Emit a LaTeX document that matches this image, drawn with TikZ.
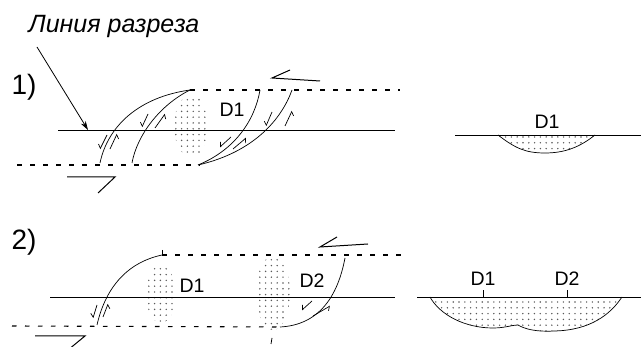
\documentclass[tikz,border=0pt]{standalone}
\usepackage{fontspec}
\setmainfont{Liberation Sans}
\usetikzlibrary{arrows.meta,calc,positioning}

\tikzset{
 cut/.style={line width=.8pt},
 trace/.style={line width=1.1pt,dash pattern=on 4.5pt off 8.5pt},
 fault/.style={line width=.7pt},
 slip/.style={line width=.7pt,-{Straight Barb[right,length=3pt,width=7pt]}},
 sense/.style={line width=1pt,line join=miter},
 dot/.style={black!65},
 lbl/.style={font=\fontsize{19.5}{22}\selectfont},
 num/.style={font=\fontsize{28}{32}\selectfont},
 capt/.style={font=\fontsize{25}{28}\selectfont\itshape}
}

\begin{document}
\begin{tikzpicture}[x=1pt,y=-1pt]
\useasboundingbox (0,0) rectangle (641,347);
\node[capt] (cap) at (114,26) {Линия разреза};
\coordinate (tail) at (37,47);
\coordinate (hit) at (88,130);
\draw[line width=.8pt,-{Stealth[length=9pt,width=5.5pt]}] (tail) -- (hit);
\node[num] (one) at (24,87) {1)};
\node[num] (two) at (24,242) {2)};

% stage 1, plan
\begin{scope}
 \clip (191,126) ellipse (17 and 31);
 \foreach \i in {0,...,7}
  \foreach \j in {0,...,11}
   \fill[dot] (170+\i*5.8,94+\j*5.8) circle (.8);
\end{scope}
\draw[cut] (58,130) -- (395,130);
\draw[trace] (190,90) -- (400,90);
\draw[trace] (17,165) -- (200,165);
\draw[fault] (100,163) .. controls (108,125) and (140,97) .. (190,90);
\draw[fault] (132,163) .. controls (137,135) and (160,105) .. (190,90);
\draw[fault] (198,165) .. controls (235,150) and (255,120) .. (260,90);
\draw[fault] (198,165) .. controls (255,152) and (282,118) .. (292,90);
\draw[slip] (107,135) -- (100,149);
\draw[slip] (110,149) -- (117,134);
\draw[slip] (148,114) -- (142,127);
\draw[slip] (155,128) -- (165,114);
\draw[slip] (231,137) -- (220,147);
\draw[slip] (233,149) -- (246,138);
\draw[slip] (272,112) -- (266,126);
\draw[slip] (285,126) -- (292,111);
\draw[sense] (320,81) -- (272,78) -- (290,70);
\draw[sense] (67,177) -- (115,177) -- (98,193);
\node[lbl] (d1a) at (232,110) {D1};

% stage 1, section
\begin{scope}
 \clip (498,135) .. controls (515,148) and (525,153) .. (545,153)
  .. controls (565,153) and (580,147) .. (595,135) -- cycle;
 \foreach \i in {0,...,18}
  \foreach \j in {0,...,3}
   \fill[dot] (494+\i*5.8,137+\j*5.8) circle (.8);
\end{scope}
\draw[cut] (455,135) -- (641,135);
\draw[fault] (498,135) .. controls (515,148) and (525,153) .. (545,153)
 .. controls (565,153) and (580,147) .. (595,135);
\node[lbl] (d1b) at (547,122) {D1};

% stage 2, plan
\begin{scope}
 \clip (161,294) ellipse (15 and 29);
 \foreach \i in {0,...,6}
  \foreach \j in {0,...,11}
   \fill[dot] (143+\i*5.8,263+\j*5.8) circle (.8);
\end{scope}
\begin{scope}
 \clip (273,293) ellipse (17 and 37);
 \foreach \i in {0,...,7}
  \foreach \j in {0,...,14}
   \fill[dot] (254+\i*5.8,254+\j*5.8) circle (.8);
\end{scope}
\draw[cut] (50,297) -- (395,297);
\draw[trace] (162,255) -- (405,255);
\draw[trace] (12,326) -- (283,327);
\draw[cut] (162,250) -- (162,255);
\draw[cut] (272,338) -- (271,344);
\draw[fault] (97,325) .. controls (105,290) and (125,263) .. (162,255);
\draw[fault] (280,327) .. controls (320,325) and (338,295) .. (345,258);
\draw[slip] (97,305) -- (93,318);
\draw[slip] (103,317) -- (108,304);
\draw[slip] (312,301) -- (302,310);
\draw[slip] (313,316) -- (330,306);
\draw[sense] (368,244) -- (320,247) -- (337,237);
\draw[sense] (35,336) -- (85,336) -- (68,350);
\node[lbl] (d1c) at (192,286) {D1};
\node[lbl] (d2c) at (312,281) {D2};

% stage 2, section
\begin{scope}
 \clip (430,297) .. controls (440,315) and (465,328) .. (493,328)
  .. controls (505,328) and (512,325) .. (518,325)
  .. controls (525,329) and (535,332) .. (555,331)
  .. controls (590,330) and (610,315) .. (622,297) -- cycle;
 \foreach \i in {0,...,33}
  \foreach \j in {0,...,5}
   \fill[dot] (430+\i*5.8,302+\j*5.8) circle (.8);
\end{scope}
\draw[cut] (417,297) -- (641,297);
\draw[fault] (430,297) .. controls (440,315) and (465,328) .. (493,328)
 .. controls (505,328) and (512,325) .. (518,325)
 .. controls (525,329) and (535,332) .. (555,331)
 .. controls (590,330) and (610,315) .. (622,297);
\draw[cut] (483,297) -- (483,290);
\draw[cut] (567,297) -- (567,290);
\node[lbl] (d1d) at (483,279) {D1};
\node[lbl] (d2d) at (567,279) {D2};
\end{tikzpicture}
\end{document}
